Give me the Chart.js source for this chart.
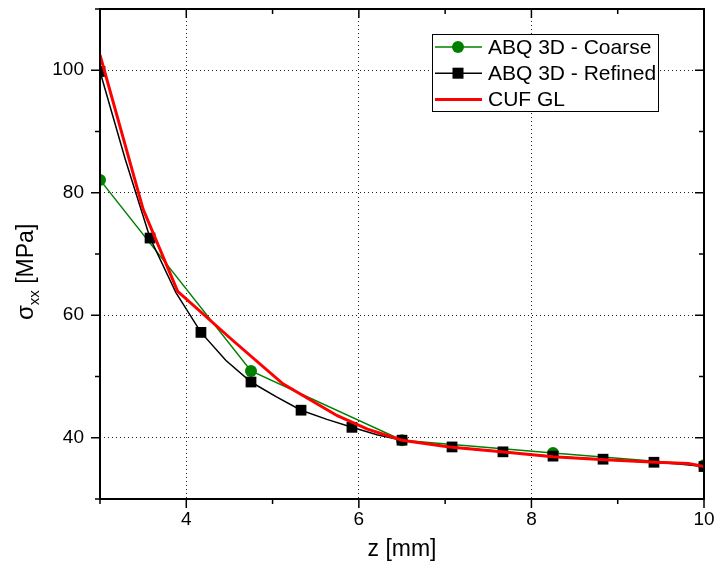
<!DOCTYPE html>
<html>
<head>
<meta charset="utf-8">
<script src="https://cdn.jsdelivr.net/npm/chart.js@4.4.1/dist/chart.umd.min.js"></script>
<style>
  body { margin: 0; background: #fff; }
  #wrap { width: 715px; height: 576px; }
</style>
</head>
<body>
<div id="wrap"><canvas id="chart" width="715" height="576"></canvas></div>
<script>
const FONT = "'Liberation Sans', Arial, sans-serif";

// ---- data ----
// ABQ 3D - Coarse
const coarseZ = [3, 4.75, 6.5, 8.25, 10];
const coarseSxx = [82.1, 50.9, 39.6, 37.5, 35.5];

// ABQ 3D - Refined (marker on every second node)
const refinedZ = [3, 3.29, 3.58, 3.88, 4.17, 4.46, 4.75, 5.04, 5.33, 5.63, 5.92, 6.21, 6.5,
                  6.79, 7.08, 7.38, 7.67, 7.96, 8.25, 8.54, 8.83, 9.13, 9.42, 9.71, 10];
const refinedSxx = [99.8, 85.6, 72.6, 63.7, 57.2, 52.6, 49.1, 46.7, 44.5, 43.0, 41.7, 40.5, 39.6,
                    39.0, 38.5, 38.1, 37.7, 37.3, 37.0, 36.7, 36.5, 36.2, 36.0, 35.7, 35.3];

// CUF GL
const cufZ = [3, 3.5, 3.9, 4.53, 5.12, 5.75, 6.1, 6.5, 7.05, 7.65, 8.25, 8.85, 9.45, 9.82, 10];
const cufSxx = [102.5, 77.3, 63.9, 56.0, 48.8, 43.6, 41.4, 39.6, 38.5, 37.7, 36.9, 36.4, 36.0, 35.8, 35.3];

// axes
const xMin = 3, xMax = 10;
const yMin = 30, yMax = 110;
const xLabelTicks = [4, 6, 8, 10];
const yLabelTicks = [40, 60, 80, 100];

const toXY = (xs, ys) => xs.map((x, i) => ({ x, y: ys[i] }));

// keep the plot box where the reference has it
const fixBox = (s, size) => {
  if (s.isHorizontal()) s.height = size; else s.width = size;
  s.paddingTop = s.paddingBottom = s.paddingLeft = s.paddingRight = 0;
};

// -------------------------------
// frame, ticks, legend, titles
// -------------------------------
const decor = {
  id: "decor",
  afterDatasetsDraw(chart) {
    const { ctx, chartArea: a, scales } = chart;
    ctx.save();
    ctx.strokeStyle = "#000";

    // tick marks: outward left/bottom, inward top/right
    ctx.lineWidth = 1.5;
    scales.y.ticks.forEach(t => {
      const py = scales.y.getPixelForValue(t.value);
      const len = yLabelTicks.includes(t.value) ? 9 : 5;
      ctx.beginPath();
      ctx.moveTo(a.left - len, py); ctx.lineTo(a.left, py);
      ctx.moveTo(a.right - len, py); ctx.lineTo(a.right, py);
      ctx.stroke();
    });
    scales.x.ticks.forEach(t => {
      const px = scales.x.getPixelForValue(t.value);
      const len = xLabelTicks.includes(t.value) ? 9 : 5;
      ctx.beginPath();
      ctx.moveTo(px, a.bottom); ctx.lineTo(px, a.bottom + len);
      ctx.moveTo(px, a.top); ctx.lineTo(px, a.top + len);
      ctx.stroke();
    });

    // frame
    ctx.lineWidth = 2;
    ctx.strokeRect(a.left, a.top, a.right - a.left, a.bottom - a.top);

    // legend
    const lx = 432, ly = 34, lw = 226, lh = 77;
    ctx.fillStyle = "#fff";
    ctx.fillRect(lx, ly, lw, lh);
    ctx.lineWidth = 1;
    ctx.strokeRect(lx + 0.5, ly + 0.5, lw, lh);
    const rows = [
      { label: "ABQ 3D - Coarse", color: "#008000", width: 1.5, marker: "circle" },
      { label: "ABQ 3D - Refined", color: "#000", width: 1.5, marker: "rect" },
      { label: "CUF GL", color: "#ff0000", width: 3, marker: null }
    ];
    rows.forEach((r, i) => {
      const cy = 47 + i * 26.2;
      ctx.strokeStyle = r.color;
      ctx.lineWidth = r.width;
      ctx.beginPath();
      ctx.moveTo(435, cy); ctx.lineTo(482, cy);
      ctx.stroke();
      ctx.fillStyle = r.color;
      if (r.marker === "circle") {
        ctx.beginPath();
        ctx.arc(458, cy, 6, 0, Math.PI * 2);
        ctx.fill();
      } else if (r.marker === "rect") {
        ctx.fillRect(452.5, cy - 5.5, 11, 11);
      }
      ctx.fillStyle = "#000";
      ctx.font = "21px " + FONT;
      ctx.textAlign = "left";
      ctx.textBaseline = "middle";
      ctx.fillText(r.label, 488, cy + 1);
    });
    ctx.restore();
  },
  afterDraw(chart) {
    const { ctx, chartArea: a } = chart;
    ctx.save();
    ctx.fillStyle = "#000";

    // x title
    ctx.font = "23px " + FONT;
    ctx.textAlign = "center";
    ctx.textBaseline = "middle";
    ctx.fillText("z [mm]", (a.left + a.right) / 2, 550);

    // y title with subscript
    ctx.translate(33, 320);
    ctx.rotate(-Math.PI / 2);
    ctx.textAlign = "left";
    ctx.textBaseline = "alphabetic";
    ctx.font = "24px " + FONT;
    ctx.fillText("σ", 0, 0);
    let w = ctx.measureText("σ").width;
    ctx.font = "15px " + FONT;
    ctx.fillText("xx", w, 6);
    w += ctx.measureText("xx").width;
    ctx.font = "23px " + FONT;
    ctx.fillText(" [MPa]", w, 0);
    ctx.restore();
  }
};

new Chart(document.getElementById("chart").getContext("2d"), {
  type: "line",
  data: {
    datasets: [
      {
        label: "CUF GL",
        data: toXY(cufZ, cufSxx),
        borderColor: "#ff0000",
        borderWidth: 3,
        pointRadius: 0,
        order: 0
      },
      {
        label: "ABQ 3D - Refined",
        data: toXY(refinedZ, refinedSxx),
        borderColor: "#000",
        backgroundColor: "#000",
        borderWidth: 1.5,
        pointStyle: "rect",
        pointRadius: ctx => (ctx.dataIndex % 2 === 0 ? 7.6 : 0),
        pointBorderWidth: 0,
        order: 1
      },
      {
        label: "ABQ 3D - Coarse",
        data: toXY(coarseZ, coarseSxx),
        borderColor: "#008000",
        backgroundColor: "#008000",
        borderWidth: 1.5,
        pointStyle: "circle",
        pointRadius: 6,
        pointBorderWidth: 0,
        order: 2
      }
    ]
  },
  options: {
    responsive: false,
    animation: false,
    layout: { padding: { top: 9, right: 11, left: 0, bottom: 0 } },
    plugins: {
      legend: { display: false },
      tooltip: { enabled: false }
    },
    elements: { line: { tension: 0 } },
    scales: {
      x: {
        type: "linear",
        min: xMin,
        max: xMax,
        afterFit: s => fixBox(s, 77),
        ticks: {
          stepSize: 1,
          autoSkip: false,
          maxRotation: 0,
          padding: 9,
          color: "#000",
          font: { family: FONT, size: 19 },
          callback: v => (xLabelTicks.includes(v) ? v : "")
        },
        grid: {
          drawTicks: false,
          lineWidth: 1,
          color: c => (c.tick && xLabelTicks.includes(c.tick.value) ? "#222" : "rgba(0,0,0,0)")
        },
        border: { display: false, dash: [1, 3] }
      },
      y: {
        type: "linear",
        min: yMin,
        max: yMax,
        afterFit: s => fixBox(s, 100),
        ticks: {
          stepSize: 10,
          autoSkip: false,
          padding: 16,
          color: "#000",
          font: { family: FONT, size: 19 },
          callback: v => (yLabelTicks.includes(v) ? v : "")
        },
        grid: {
          drawTicks: false,
          lineWidth: 1,
          color: c => (c.tick && yLabelTicks.includes(c.tick.value) ? "#222" : "rgba(0,0,0,0)")
        },
        border: { display: false, dash: [1, 3] }
      }
    }
  },
  plugins: [decor]
});
</script>
</body>
</html>
